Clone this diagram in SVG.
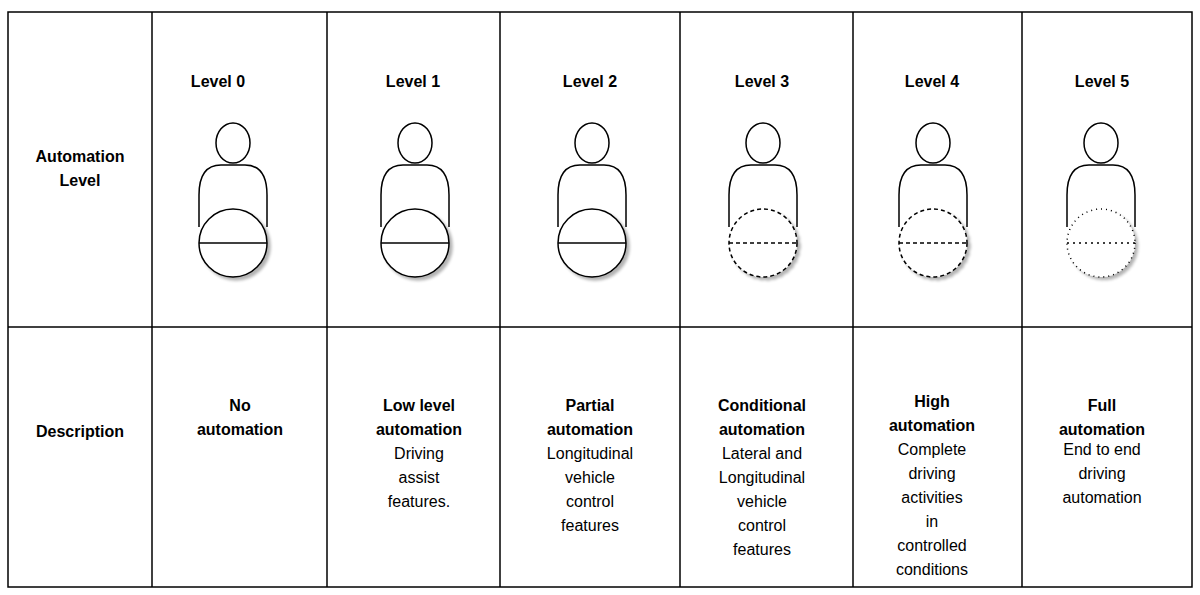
<svg xmlns="http://www.w3.org/2000/svg" width="1200" height="595" viewBox="0 0 1200 595">
<defs>
<style>
.t{font-family:"Liberation Sans",Arial,sans-serif;font-size:16px;fill:#000;text-anchor:middle}
.b{font-weight:bold}
.ln{stroke:#000;stroke-width:1.5;fill:none}
.f{stroke:#000;stroke-width:1.5;fill:#fff}
</style>
<filter id="sh" x="-20%" y="-20%" width="150%" height="150%"><feGaussianBlur in="SourceAlpha" stdDeviation="1.5"/><feOffset dx="3" dy="3"/><feComponentTransfer><feFuncA type="linear" slope="0.3"/></feComponentTransfer><feMerge><feMergeNode/><feMergeNode in="SourceGraphic"/></feMerge></filter>
<g id="person">
<ellipse cx="0" cy="143" rx="17" ry="20" class="f"/>
<path d="M-34 227 V195 Q-34 165 -12 165 H12 Q34 165 34 195 V227" class="ln"/>
</g>
</defs>
<rect width="1200" height="595" fill="#fff"/>
<g id="table" class="ln">
<rect x="8" y="12" width="1184" height="575"/>
<line x1="8" y1="327" x2="1192" y2="327"/>
<line x1="152" y1="12" x2="152" y2="587"/>
<line x1="327" y1="12" x2="327" y2="587"/>
<line x1="500" y1="12" x2="500" y2="587"/>
<line x1="680" y1="12" x2="680" y2="587"/>
<line x1="853" y1="12" x2="853" y2="587"/>
<line x1="1022" y1="12" x2="1022" y2="587"/>
</g>
<g id="headers" class="t b">
<text x="80" y="162">Automation</text><text x="80" y="186">Level</text>
<text x="80" y="437">Description</text>
<text x="218" y="87">Level 0</text>
<text x="413" y="87">Level 1</text>
<text x="590" y="87">Level 2</text>
<text x="762" y="87">Level 3</text>
<text x="932" y="87">Level 4</text>
<text x="1102" y="87">Level 5</text>
</g>
<g id="l0" transform="translate(233,0)"><use href="#person"/><circle cy="243" r="34" class="f" filter="url(#sh)"/><line x1="-34" y1="243" x2="34" y2="243" class="ln"/></g>
<g id="l1" transform="translate(415,0)"><use href="#person"/><circle cy="243" r="34" class="f" filter="url(#sh)"/><line x1="-34" y1="243" x2="34" y2="243" class="ln"/></g>
<g id="l2" transform="translate(592,0)"><use href="#person"/><circle cy="243" r="34" class="f" filter="url(#sh)"/><line x1="-34" y1="243" x2="34" y2="243" class="ln"/></g>
<g id="l3" transform="translate(763,0)"><use href="#person"/><circle cy="243" r="34" class="f" filter="url(#sh)" stroke-dasharray="4 3"/><line x1="-34" y1="243" x2="34" y2="243" class="ln" stroke-dasharray="4 3"/></g>
<g id="l4" transform="translate(933,0)"><use href="#person"/><circle cy="243" r="34" class="f" filter="url(#sh)" stroke-dasharray="4 3"/><line x1="-34" y1="243" x2="34" y2="243" class="ln" stroke-dasharray="4 3"/></g>
<g id="l5" transform="translate(1101,0)"><use href="#person"/><circle cy="243" r="34" class="f" filter="url(#sh)" stroke-dasharray="1 4" stroke-width="1"/><line x1="-34" y1="243" x2="34" y2="243" class="ln" stroke-dasharray="2 4" stroke-width="1"/></g>
<g id="desc" class="t">
<text x="240" y="411" class="b">No</text><text x="240" y="435" class="b">automation</text>
<text x="419" y="411" class="b">Low level</text><text x="419" y="435" class="b">automation</text><text x="419" y="459">Driving</text><text x="419" y="483">assist</text><text x="419" y="507">features.</text>
<text x="590" y="411" class="b">Partial</text><text x="590" y="435" class="b">automation</text><text x="590" y="459">Longitudinal</text><text x="590" y="483">vehicle</text><text x="590" y="507">control</text><text x="590" y="531">features</text>
<text x="762" y="411" class="b">Conditional</text><text x="762" y="435" class="b">automation</text><text x="762" y="459">Lateral and</text><text x="762" y="483">Longitudinal</text><text x="762" y="507">vehicle</text><text x="762" y="531">control</text><text x="762" y="555">features</text>
<text x="932" y="407" class="b">High</text><text x="932" y="431" class="b">automation</text><text x="932" y="455">Complete</text><text x="932" y="479">driving</text><text x="932" y="503">activities</text><text x="932" y="527">in</text><text x="932" y="551">controlled</text><text x="932" y="575">conditions</text>
<text x="1102" y="411" class="b">Full</text><text x="1102" y="435" class="b">automation</text><text x="1102" y="455">End to end</text><text x="1102" y="479">driving</text><text x="1102" y="503">automation</text>
</g>
</svg>
